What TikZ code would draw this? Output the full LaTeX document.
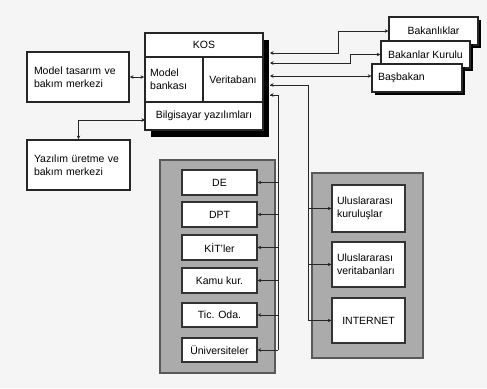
\documentclass[tikz,border=0pt]{standalone}
\usepackage{fontspec}
\setmainfont{Liberation Sans}
\usetikzlibrary{arrows.meta,shadows}
\begin{document}
\begin{tikzpicture}[x=1pt,y=-1pt,
  font=\fontsize{10.5}{13}\selectfont,
  box/.style={draw=black!85,line width=1.8pt,fill=white,rectangle,inner sep=0pt},
  txtbox/.style={box,align=left,inner xsep=6pt},
  sbox/.style={draw=black!85,line width=1.4pt,fill=white,rectangle,inner sep=0pt,
     drop shadow={shadow xshift=3pt,shadow yshift=-3pt,fill=black,opacity=1}},
  panel/.style={draw=black!65,line width=1.5pt,fill=black!33,rectangle,inner sep=0pt},
  ibox/.style={draw=black!80,line width=1.3pt,fill=white,rectangle,inner sep=0pt},
  conn/.style={draw=black!85,line width=0.9pt},
  tip/.style={conn,-{Stealth[length=3.5pt,width=3.5pt]}},
  dtip/.style={conn,{Stealth[length=3.5pt,width=3.5pt]}-{Stealth[length=3.5pt,width=3.5pt]}}
]
\useasboundingbox[fill=black!4] (0,0) rectangle (487,388);

% Model / Yazilim boxes
\node[txtbox,minimum width=102pt,minimum height=50pt,text width=88pt] (model) at (78,77)
  {Model tasarım ve\\bakım merkezi};
\node[txtbox,minimum width=103pt,minimum height=50pt,text width=89pt] (yaz) at (78.5,165)
  {Yazılım üretme ve\\bakım merkezi};

% KOS with shadow
\node[fill=black,minimum width=118pt,minimum height=97pt,inner sep=0pt] (kossh) at (210,88.5) {};
\node[box,minimum width=118pt,minimum height=97pt] (kos) at (204,81.5) {};
\coordinate (h1l) at (145,57);  \coordinate (h1r) at (263,57);
\coordinate (h2l) at (145,102); \coordinate (h2r) at (263,102);
\coordinate (vt) at (203,57);   \coordinate (vb) at (203,102);
\draw[draw=black!85,line width=1.4pt] (h1l) -- (h1r) (h2l) -- (h2r) (vt) -- (vb);
\node (kost) at (204,45) {KOS};
\node[anchor=west,align=left,inner sep=0pt] (mb) at (150,79.5) {Model\\bankası};
\node (vtb) at (233,79.5) {Veritabanı};
\node (bly) at (204,116) {Bilgisayar yazılımları};

% Right stacked boxes
\node[sbox,minimum width=89pt,minimum height=28pt] (bk1) at (433.5,31) {Bakanlıklar};
\node[sbox,minimum width=89pt,minimum height=27pt] (bk2) at (425.5,54.5) {Bakanlar Kurulu};
\node[sbox,minimum width=90pt,minimum height=28pt,text width=78pt,align=left,inner xsep=6pt] (bk3) at (417,78) {Başbakan};

% Panels
\node[panel,minimum width=115pt,minimum height=213pt] (lp) at (217.5,266.5) {};
\node[panel,minimum width=111pt,minimum height=185pt] (rp) at (367.5,265.5) {};

% Left inner boxes
\node[ibox,minimum width=75pt,minimum height=25pt] (die) at (219.5,182.5) {DE};
\node[ibox,minimum width=75pt,minimum height=25pt] (dpt) at (219.5,214.5) {DPT};
\node[ibox,minimum width=75pt,minimum height=25pt] (kit) at (219.5,247.5) {KİT'ler};
\node[ibox,minimum width=75pt,minimum height=25pt] (kamu) at (219.5,280.5) {Kamu kur.};
\node[ibox,minimum width=75pt,minimum height=24pt] (tic) at (219.5,315) {Tic. Oda.};
\node[ibox,minimum width=75pt,minimum height=24pt] (uni) at (219.5,350) {Üniversiteler};

% Right inner boxes
\node[ibox,minimum width=73pt,minimum height=47pt,text width=63pt,align=left,inner xsep=5pt] (uk) at (368.5,208.5) {Uluslararası\\kuruluşlar};
\node[ibox,minimum width=73pt,minimum height=45pt,text width=63pt,align=left,inner xsep=5pt] (uv) at (368.5,264.5) {Uluslararası\\veritabanları};
\node[ibox,minimum width=73pt,minimum height=45pt] (inet) at (368.5,320.5) {INTERNET};

% Connectors left side
\draw[dtip] (model.east) -- (kos.west |- model.east);
\coordinate (ky) at (145,120);
\draw[dtip] (ky) -| (yaz.north);

% Connectors right side
\coordinate (o1) at (270,53);
\coordinate (o2) at (270,63);
\coordinate (o3) at (270,76);
\coordinate (o4) at (270,85);
\coordinate (o5) at (270,95);
\coordinate (j1) at (338,53);
\coordinate (j2) at (350,63);
\coordinate (jr) at (308,85);
\coordinate (jl) at (278,95);
\draw[dtip] (o1) -- (j1) |- (bk1.west);
\draw[dtip] (o2) -- (j2) |- (bk2.west);
\draw[dtip] (o3) -- (bk3.west |- o3);
\coordinate (jrb) at (308,320.5);
\coordinate (jlb) at (278,350);
\draw[conn] (o4) -- (jr) -- (jrb);
\draw[conn] (o5) -- (jl) -- (jlb);
\draw[{Stealth[length=3.5pt,width=3.5pt]}-,conn] (o4) -- (jr);
\draw[{Stealth[length=3.5pt,width=3.5pt]}-,conn] (o5) -- (jl);
\foreach \b in {die,dpt,kit,kamu,tic,uni}
  \draw[tip] (jl |- \b.east) -- (\b.east);
\foreach \b in {uk,uv,inet}
  \draw[tip] (jr |- \b.west) -- (\b.west);
\end{tikzpicture}
\end{document}
